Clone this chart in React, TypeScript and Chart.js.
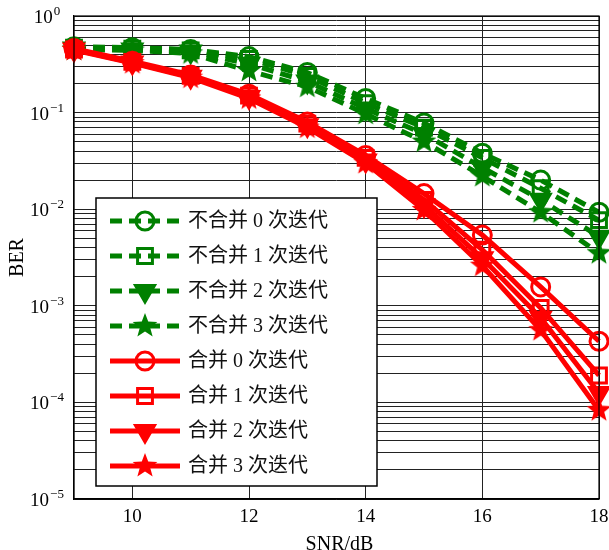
import React, { useEffect, useRef } from 'react';
import { Chart, registerables } from 'chart.js';
import { drawPoint } from 'chart.js/helpers';

Chart.register(...registerables);

const SNR = [9, 10, 11, 12, 13, 14, 15, 16, 17, 18];
const X_TICKS = [10, 12, 14, 16, 18];
const Y_EXPONENTS = [0, -1, -2, -3, -4, -5];

const NC0 = [0.48, 0.47, 0.45, 0.38, 0.26, 0.14, 0.078, 0.038, 0.02, 0.0093];
const NC1 = [0.47, 0.46, 0.44, 0.36, 0.24, 0.125, 0.07, 0.034, 0.0165, 0.0077];
const NC2 = [0.46, 0.45, 0.43, 0.32, 0.21, 0.11, 0.06, 0.027, 0.0125, 0.0052];
const NC3 = [0.45, 0.44, 0.41, 0.27, 0.185, 0.097, 0.05, 0.022, 0.0093, 0.0035];
const C0 = [0.46, 0.34, 0.245, 0.155, 0.08, 0.036, 0.0145, 0.0054, 0.00157, 0.00043];
const C1 = [0.45, 0.335, 0.24, 0.15, 0.077, 0.034, 0.0125, 0.0038, 0.00095, 0.00019];
const C2 = [0.45, 0.33, 0.235, 0.145, 0.074, 0.032, 0.011, 0.0031, 0.00075, 0.000125];
const C3 = [0.445, 0.325, 0.23, 0.14, 0.07, 0.03, 0.0098, 0.0026, 0.00056, 0.000083];

const LABELS = [
  '不合并 0 次迭代',
  '不合并 1 次迭代',
  '不合并 2 次迭代',
  '不合并 3 次迭代',
  '合并 0 次迭代',
  '合并 1 次迭代',
  '合并 2 次迭代',
  '合并 3 次迭代',
];

const GREEN = '#008000';
const RED = '#ff0000';
const SERIF = '"Liberation Serif", "Times New Roman", "Noto Sans CJK SC", serif';

function makeStar(color: string): HTMLCanvasElement {
  const R = 13;
  const r = R * 0.42;
  const c = document.createElement('canvas');
  c.width = 2 * R + 2;
  c.height = 2 * R + 2;
  const g = c.getContext('2d')!;
  g.translate(R + 1, R + 1);
  g.beginPath();
  for (let i = 0; i < 10; i++) {
    const rad = i % 2 === 0 ? R : r;
    const ang = -Math.PI / 2 + (i * Math.PI) / 5;
    const px = rad * Math.cos(ang);
    const py = rad * Math.sin(ang);
    if (i === 0) g.moveTo(px, py);
    else g.lineTo(px, py);
  }
  g.closePath();
  g.fillStyle = color;
  g.fill();
  return c;
}

export default function App() {
  const ref = useRef<HTMLCanvasElement | null>(null);

  useEffect(() => {
    if (!ref.current) return;
    const greenStar = makeStar(GREEN);
    const redStar = makeStar(RED);

    type M = { style: any; radius: number; rotation: number; filled: boolean };
    const markers: M[] = [
      { style: 'circle', radius: 9, rotation: 0, filled: false },
      { style: 'rect', radius: 10.5, rotation: 0, filled: false },
      { style: 'triangle', radius: 11, rotation: 180, filled: true },
      { style: 'star', radius: 13, rotation: 0, filled: true },
    ];
    const series = [NC0, NC1, NC2, NC3, C0, C1, C2, C3];

    const datasets = series.map((vals, i) => {
      const green = i < 4;
      const color = green ? GREEN : RED;
      const m = markers[i % 4];
      const style = m.style === 'star' ? (green ? greenStar : redStar) : m.style;
      return {
        label: LABELS[i],
        data: SNR.map((x, k) => ({ x, y: vals[k] })),
        borderColor: color,
        backgroundColor: color,
        borderWidth: 5,
        borderDash: green ? [12, 7] : [],
        pointStyle: style,
        pointRadius: m.radius,
        pointRotation: m.rotation,
        pointBorderWidth: 3,
        pointBorderColor: color,
        pointBackgroundColor: m.filled ? color : 'rgba(0,0,0,0)',
        order: green ? 10 - i : 4 - (i - 4),
        tension: 0,
        clip: false as any,
      };
    });

    const overlay = {
      id: 'overlay',
      afterDraw(chart: any) {
        const { ctx, chartArea: a, scales } = chart;
        const y = scales.y;
        ctx.save();
        ctx.setLineDash([]);
        ctx.strokeStyle = '#000';
        ctx.lineWidth = 1.2;
        ctx.strokeRect(a.left, a.top, a.right - a.left, a.bottom - a.top);

        // y tick labels with superscripts
        ctx.fillStyle = '#000';
        for (const e of Y_EXPONENTS) {
          const yy = y.getPixelForValue(Math.pow(10, e));
          const exp = e === 0 ? '0' : '\u2212' + Math.abs(e);
          ctx.font = '13px ' + SERIF;
          const ew = ctx.measureText(exp).width;
          ctx.font = '19px ' + SERIF;
          const bw = ctx.measureText('10').width;
          const total = bw + ew + 1;
          const cx = a.left - 27;
          const x0 = cx - total / 2;
          ctx.textAlign = 'left';
          ctx.textBaseline = 'alphabetic';
          ctx.fillText('10', x0, yy + 7);
          ctx.font = '13px ' + SERIF;
          ctx.fillText(exp, x0 + bw + 1, yy - 1);
        }

        // axis titles
        ctx.font = '20px ' + SERIF;
        ctx.textAlign = 'center';
        ctx.textBaseline = 'middle';
        ctx.fillText('SNR/dB', (a.left + a.right) / 2 + 3, a.bottom + 46);
        ctx.save();
        ctx.translate(18, (a.top + a.bottom) / 2);
        ctx.rotate(-Math.PI / 2);
        ctx.fillText('BER', 0, 0);
        ctx.restore();

        // legend
        const lx = a.left + 22;
        const ly = a.top + 182;
        const lw = 281;
        const lh = 288;
        ctx.fillStyle = '#fff';
        ctx.fillRect(lx, ly, lw, lh);
        ctx.strokeStyle = '#000';
        ctx.lineWidth = 1.5;
        ctx.strokeRect(lx, ly, lw, lh);
        datasets.forEach((ds: any, i: number) => {
          const ry = ly + 23 + i * 35;
          ctx.strokeStyle = ds.borderColor;
          ctx.lineWidth = 5;
          ctx.setLineDash(ds.borderDash);
          ctx.beginPath();
          ctx.moveTo(lx + 14, ry);
          ctx.lineTo(lx + 84, ry);
          ctx.stroke();
          ctx.setLineDash([]);
          ctx.lineWidth = ds.pointBorderWidth;
          ctx.strokeStyle = ds.pointBorderColor;
          ctx.fillStyle = ds.pointBackgroundColor;
          drawPoint(
            ctx,
            {
              pointStyle: ds.pointStyle,
              rotation: ds.pointRotation,
              radius: ds.pointRadius,
              borderWidth: ds.pointBorderWidth,
            } as any,
            lx + 49,
            ry
          );
          ctx.fillStyle = '#111';
          ctx.font = '20px ' + SERIF;
          ctx.textAlign = 'left';
          ctx.textBaseline = 'middle';
          ctx.fillText(ds.label, lx + 92, ry + 1);
        });
        ctx.restore();
      },
    };

    const chart = new Chart(ref.current, {
      type: 'line',
      data: { datasets: datasets as any },
      options: {
        responsive: false,
        animation: false,
        layout: { autoPadding: false, padding: { top: 16, right: 10, left: 0, bottom: 0 } },
        plugins: {
          legend: { display: false },
          tooltip: { enabled: false },
          title: { display: false },
        },
        scales: {
          x: {
            type: 'linear',
            min: 9,
            max: 18,
            afterBuildTicks: (s: any) => {
              s.ticks = X_TICKS.map((v) => ({ value: v }));
            },
            afterFit: (s: any) => {
              s.height = 51;
              s.paddingLeft = 0;
              s.paddingRight = 0;
            },
            grid: { color: '#222', lineWidth: 1, drawTicks: false },
            border: { display: true, color: '#000', width: 1.2 },
            ticks: {
              color: '#000',
              font: { family: SERIF, size: 19 },
              padding: 7,
              maxRotation: 0,
              autoSkip: false,
            },
          },
          y: {
            type: 'logarithmic',
            min: 1e-5,
            max: 1,
            afterBuildTicks: (s: any) => {
              const t: { value: number }[] = [];
              for (let e = -5; e < 0; e++) {
                for (let m = 1; m <= 9; m++) t.push({ value: m * Math.pow(10, e) });
              }
              t.push({ value: 1 });
              s.ticks = t;
            },
            afterFit: (s: any) => {
              s.width = 74;
              s.paddingTop = 0;
              s.paddingBottom = 0;
            },
            grid: { color: '#222', lineWidth: 1, drawTicks: false },
            border: { display: true, color: '#000', width: 1.2 },
            ticks: { display: false },
          },
        },
      },
      plugins: [overlay],
    });
    return () => chart.destroy();
  }, []);

  return (
    <div style={{ position: 'fixed', left: 0, top: 0, width: 609, height: 550, background: '#fff' }}>
      <canvas ref={ref} width={609} height={550} />
    </div>
  );
}
